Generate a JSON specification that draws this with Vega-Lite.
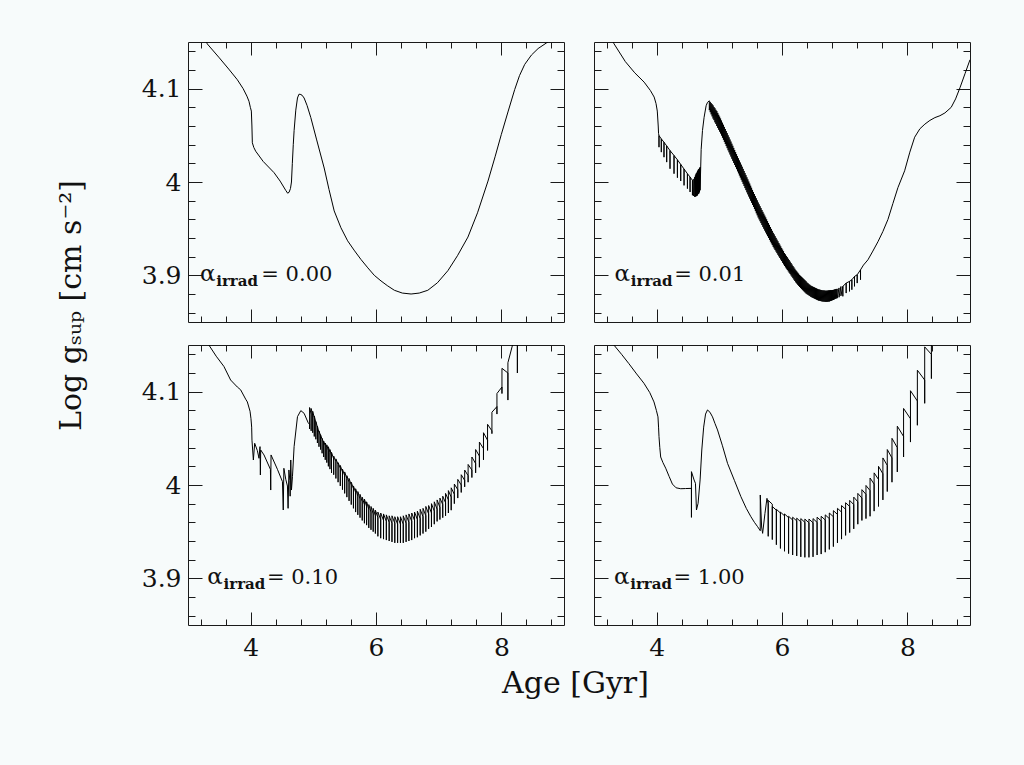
{
"$schema": "https://vega.github.io/schema/vega-lite/v6.json",
"background": "#f7fbfb",
"padding": {"left": 55, "top": 34, "right": 55, "bottom": 68},
"config": {
 "view": {"stroke": null},
 "axis": {"grid": false, "domainColor": "#1a1a1a", "tickColor": "#1a1a1a", "labelColor": "#111", "labelFont": "DejaVu Serif", "labelFontSize": 25, "titleFont": "DejaVu Serif", "titleFontSize": 30, "titleFontWeight": "normal", "titleColor": "#111", "domainWidth": 1, "tickWidth": 1},
 "text": {"font": "DejaVu Serif", "color": "#111"}
},
"datasets": {
"a": [{"x":3.25,"y":4.158},{"x":3.307,"y":4.148},{"x":3.5,"y":4.133},{"x":3.65,"y":4.121},{"x":3.787,"y":4.1096},{"x":3.88,"y":4.1},{"x":3.94,"y":4.092},{"x":3.973,"y":4.0865},{"x":3.995,"y":4.08},{"x":4.011,"y":4.076},{"x":4.02,"y":4.06},{"x":4.027,"y":4.042},{"x":4.05,"y":4.037},{"x":4.08,"y":4.033},{"x":4.2,"y":4.022},{"x":4.373,"y":4.01},{"x":4.47,"y":4.001},{"x":4.56,"y":3.991},{"x":4.59,"y":3.988},{"x":4.613,"y":3.989},{"x":4.635,"y":3.993},{"x":4.651,"y":4.0},{"x":4.665,"y":4.02},{"x":4.68,"y":4.04},{"x":4.693,"y":4.055},{"x":4.72,"y":4.077},{"x":4.747,"y":4.09},{"x":4.77,"y":4.094},{"x":4.789,"y":4.094},{"x":4.82,"y":4.093},{"x":4.853,"y":4.09},{"x":4.9,"y":4.082},{"x":4.96,"y":4.069},{"x":5.05,"y":4.046},{"x":5.173,"y":4.015},{"x":5.25,"y":3.992},{"x":5.333,"y":3.969},{"x":5.44,"y":3.951},{"x":5.547,"y":3.937},{"x":5.65,"y":3.927},{"x":5.76,"y":3.917},{"x":5.87,"y":3.908},{"x":5.973,"y":3.9},{"x":6.08,"y":3.894},{"x":6.18,"y":3.889},{"x":6.293,"y":3.884},{"x":6.42,"y":3.881},{"x":6.56,"y":3.88},{"x":6.69,"y":3.881},{"x":6.827,"y":3.884},{"x":6.98,"y":3.892},{"x":7.147,"y":3.905},{"x":7.3,"y":3.921},{"x":7.467,"y":3.941},{"x":7.62,"y":3.967},{"x":7.787,"y":4.001},{"x":7.9,"y":4.027},{"x":8.0,"y":4.051},{"x":8.11,"y":4.076},{"x":8.213,"y":4.099},{"x":8.29,"y":4.114},{"x":8.373,"y":4.126},{"x":8.48,"y":4.136},{"x":8.587,"y":4.143},{"x":8.72,"y":4.149},{"x":8.85,"y":4.155}],
"b": [{"x":3.25,"y":4.158},{"x":3.32,"y":4.148},{"x":3.5,"y":4.129},{"x":3.65,"y":4.117},{"x":3.8,"y":4.107},{"x":3.9,"y":4.098},{"x":3.96,"y":4.091},{"x":3.99,"y":4.084},{"x":4.01,"y":4.076},{"x":4.025,"y":4.06},{"x":4.03,"y":4.052},
{"x":4.037,"y":4.0497},{"x":4.037,"y":4.0373},{"x":4.037,"y":4.0497},
{"x":4.074,"y":4.0462},{"x":4.074,"y":4.032},{"x":4.074,"y":4.0462},
{"x":4.117,"y":4.0426},{"x":4.117,"y":4.0266},{"x":4.117,"y":4.0426},
{"x":4.16,"y":4.0387},{"x":4.16,"y":4.0213},{"x":4.16,"y":4.0387},
{"x":4.213,"y":4.0337},{"x":4.213,"y":4.0142},{"x":4.213,"y":4.0337},
{"x":4.277,"y":4.0284},{"x":4.277,"y":4.0089},{"x":4.277,"y":4.0284},
{"x":4.331,"y":4.0238},{"x":4.331,"y":4.0046},{"x":4.331,"y":4.0238},
{"x":4.384,"y":4.0188},{"x":4.384,"y":4.0011},{"x":4.384,"y":4.0188},
{"x":4.437,"y":4.0139},{"x":4.437,"y":3.9964},{"x":4.437,"y":4.0139},
{"x":4.491,"y":4.0089},{"x":4.491,"y":3.9929},{"x":4.491,"y":4.0089},
{"x":4.533,"y":4.0053},{"x":4.533,"y":3.9893},{"x":4.533,"y":4.0053},
{"x":4.571,"y":4.0018},{"x":4.571,"y":3.9858},{"x":4.571,"y":4.0018},
{"x":4.59,"y":4.003},{"x":4.59,"y":3.985},{"x":4.608,"y":4.0053},{"x":4.608,"y":3.984},{"x":4.618,"y":4.007},{"x":4.618,"y":3.9845},{"x":4.629,"y":4.0089},{"x":4.629,"y":3.9847},{"x":4.64,"y":4.01},{"x":4.64,"y":3.985},{"x":4.651,"y":4.0117},{"x":4.651,"y":3.9858},{"x":4.662,"y":4.013},{"x":4.662,"y":3.987},{"x":4.672,"y":4.0139},{"x":4.672,"y":3.9876},{"x":4.683,"y":4.015},{"x":4.683,"y":3.989},{"x":4.693,"y":4.016},{"x":4.693,"y":3.9911},
{"x":4.71,"y":4.035},{"x":4.731,"y":4.0551},{"x":4.757,"y":4.0693},{"x":4.789,"y":4.0817},{"x":4.811,"y":4.0853},
{"x":4.84,"y":4.087},{"x":4.84,"y":4.077},{"x":4.855,"y":4.0858},{"x":4.855,"y":4.0748},{"x":4.87,"y":4.0845},{"x":4.87,"y":4.0725},{"x":4.885,"y":4.0833},{"x":4.885,"y":4.0703},{"x":4.9,"y":4.082},{"x":4.9,"y":4.068},{"x":4.915,"y":4.0803},{"x":4.915,"y":4.0663},{"x":4.93,"y":4.079},{"x":4.93,"y":4.064},{"x":4.945,"y":4.0773},{"x":4.945,"y":4.0623},
{"x":4.96,"y":4.076},{"x":4.96,"y":4.06},{"x":4.975,"y":4.074},{"x":4.975,"y":4.058},{"x":4.99,"y":4.072},{"x":4.99,"y":4.056},{"x":5.005,"y":4.07},{"x":5.005,"y":4.054},{"x":5.02,"y":4.068},{"x":5.02,"y":4.052},{"x":5.035,"y":4.0658},{"x":5.035,"y":4.0498},{"x":5.05,"y":4.0635},{"x":5.05,"y":4.0475},{"x":5.065,"y":4.0613},{"x":5.065,"y":4.0453},
{"x":5.08,"y":4.059},{"x":5.08,"y":4.043},{"x":5.095,"y":4.0568},{"x":5.095,"y":4.0408},{"x":5.11,"y":4.0545},{"x":5.11,"y":4.0385},{"x":5.125,"y":4.0523},{"x":5.125,"y":4.0363},{"x":5.14,"y":4.05},{"x":5.14,"y":4.034},{"x":5.155,"y":4.0478},{"x":5.155,"y":4.0318},{"x":5.17,"y":4.0455},{"x":5.17,"y":4.0295},{"x":5.185,"y":4.0433},{"x":5.185,"y":4.0273},
{"x":5.2,"y":4.041},{"x":5.2,"y":4.025},{"x":5.215,"y":4.0388},{"x":5.215,"y":4.0228},{"x":5.23,"y":4.0365},{"x":5.23,"y":4.0205},{"x":5.245,"y":4.0343},{"x":5.245,"y":4.0183},{"x":5.26,"y":4.032},{"x":5.26,"y":4.016},{"x":5.275,"y":4.0298},{"x":5.275,"y":4.0138},{"x":5.29,"y":4.0275},{"x":5.29,"y":4.0115},{"x":5.305,"y":4.0253},{"x":5.305,"y":4.0093},
{"x":5.32,"y":4.023},{"x":5.32,"y":4.007},{"x":5.335,"y":4.0208},{"x":5.335,"y":4.0048},{"x":5.35,"y":4.0185},{"x":5.35,"y":4.0025},{"x":5.365,"y":4.0163},{"x":5.365,"y":4.0003},{"x":5.38,"y":4.014},{"x":5.38,"y":3.998},{"x":5.395,"y":4.0118},{"x":5.395,"y":3.9958},{"x":5.41,"y":4.0095},{"x":5.41,"y":3.9935},{"x":5.425,"y":4.0073},{"x":5.425,"y":3.9913},
{"x":5.44,"y":4.005},{"x":5.44,"y":3.989},{"x":5.455,"y":4.0028},{"x":5.455,"y":3.9868},{"x":5.47,"y":4.0005},{"x":5.47,"y":3.9845},{"x":5.485,"y":3.9983},{"x":5.485,"y":3.9823},{"x":5.5,"y":3.996},{"x":5.5,"y":3.98},{"x":5.515,"y":3.9938},{"x":5.515,"y":3.9778},{"x":5.53,"y":3.9915},{"x":5.53,"y":3.9755},{"x":5.545,"y":3.9893},{"x":5.545,"y":3.9733},
{"x":5.56,"y":3.987},{"x":5.56,"y":3.971},{"x":5.575,"y":3.9848},{"x":5.575,"y":3.9688},{"x":5.59,"y":3.9825},{"x":5.59,"y":3.9665},{"x":5.605,"y":3.9803},{"x":5.605,"y":3.9643},{"x":5.62,"y":3.978},{"x":5.62,"y":3.962},{"x":5.635,"y":3.976},{"x":5.635,"y":3.96},{"x":5.65,"y":3.974},{"x":5.65,"y":3.958},{"x":5.665,"y":3.972},{"x":5.665,"y":3.956},
{"x":5.68,"y":3.97},{"x":5.68,"y":3.954},{"x":5.695,"y":3.968},{"x":5.695,"y":3.952},{"x":5.71,"y":3.966},{"x":5.71,"y":3.95},{"x":5.725,"y":3.964},{"x":5.725,"y":3.948},{"x":5.74,"y":3.962},{"x":5.74,"y":3.946},{"x":5.755,"y":3.96},{"x":5.755,"y":3.944},{"x":5.77,"y":3.958},{"x":5.77,"y":3.942},{"x":5.785,"y":3.956},{"x":5.785,"y":3.94},
{"x":5.8,"y":3.954},{"x":5.8,"y":3.938},{"x":5.815,"y":3.9518},{"x":5.815,"y":3.9362},{"x":5.83,"y":3.9497},{"x":5.83,"y":3.9343},{"x":5.845,"y":3.9476},{"x":5.845,"y":3.9324},{"x":5.86,"y":3.9455},{"x":5.86,"y":3.9305},{"x":5.875,"y":3.9438},{"x":5.875,"y":3.9288},{"x":5.89,"y":3.9419},{"x":5.89,"y":3.9271},{"x":5.905,"y":3.9401},{"x":5.905,"y":3.9255},
{"x":5.92,"y":3.9382},{"x":5.92,"y":3.9238},{"x":5.935,"y":3.9365},{"x":5.935,"y":3.9221},{"x":5.95,"y":3.9346},{"x":5.95,"y":3.9204},{"x":5.965,"y":3.9329},{"x":5.965,"y":3.9187},{"x":5.98,"y":3.931},{"x":5.98,"y":3.917},{"x":5.995,"y":3.9293},{"x":5.995,"y":3.9153},{"x":6.01,"y":3.9275},{"x":6.01,"y":3.9135},{"x":6.025,"y":3.9258},{"x":6.025,"y":3.9118},
{"x":6.04,"y":3.9239},{"x":6.04,"y":3.9101},{"x":6.055,"y":3.9224},{"x":6.055,"y":3.9086},{"x":6.07,"y":3.9208},{"x":6.07,"y":3.9072},{"x":6.085,"y":3.9193},{"x":6.085,"y":3.9057},{"x":6.1,"y":3.9177},{"x":6.1,"y":3.9043},{"x":6.115,"y":3.9162},{"x":6.115,"y":3.9028},{"x":6.13,"y":3.9146},{"x":6.13,"y":3.9014},{"x":6.145,"y":3.9131},{"x":6.145,"y":3.8999},
{"x":6.16,"y":3.9115},{"x":6.16,"y":3.8985},{"x":6.175,"y":3.91},{"x":6.175,"y":3.897},{"x":6.19,"y":3.9085},{"x":6.19,"y":3.8955},{"x":6.205,"y":3.907},{"x":6.205,"y":3.894},{"x":6.22,"y":3.9055},{"x":6.22,"y":3.8925},{"x":6.235,"y":3.9043},{"x":6.235,"y":3.8913},{"x":6.25,"y":3.903},{"x":6.25,"y":3.89},{"x":6.265,"y":3.9018},{"x":6.265,"y":3.8888},
{"x":6.28,"y":3.9005},{"x":6.28,"y":3.8875},{"x":6.295,"y":3.8995},{"x":6.295,"y":3.8865},{"x":6.31,"y":3.8985},{"x":6.31,"y":3.8855},{"x":6.325,"y":3.8975},{"x":6.325,"y":3.8845},{"x":6.34,"y":3.8965},{"x":6.34,"y":3.8835},{"x":6.355,"y":3.8955},{"x":6.355,"y":3.8825},{"x":6.37,"y":3.8945},{"x":6.37,"y":3.8815},{"x":6.385,"y":3.8935},{"x":6.385,"y":3.8805},
{"x":6.4,"y":3.8922},{"x":6.4,"y":3.8798},{"x":6.415,"y":3.8915},{"x":6.415,"y":3.8791},{"x":6.43,"y":3.8905},{"x":6.43,"y":3.8785},{"x":6.445,"y":3.8898},{"x":6.445,"y":3.8778},{"x":6.46,"y":3.889},{"x":6.46,"y":3.877},{"x":6.475,"y":3.8885},{"x":6.475,"y":3.8765},{"x":6.49,"y":3.888},{"x":6.49,"y":3.876},{"x":6.505,"y":3.8875},{"x":6.505,"y":3.8755},
{"x":6.52,"y":3.887},{"x":6.52,"y":3.875},{"x":6.535,"y":3.8865},{"x":6.535,"y":3.8745},{"x":6.55,"y":3.886},{"x":6.55,"y":3.874},{"x":6.565,"y":3.8855},{"x":6.565,"y":3.8735},{"x":6.58,"y":3.885},{"x":6.58,"y":3.873},{"x":6.595,"y":3.8848},{"x":6.595,"y":3.8728},{"x":6.61,"y":3.8845},{"x":6.61,"y":3.8725},{"x":6.625,"y":3.8843},{"x":6.625,"y":3.8723},
{"x":6.64,"y":3.884},{"x":6.64,"y":3.872},{"x":6.655,"y":3.8839},{"x":6.655,"y":3.8719},{"x":6.67,"y":3.8838},{"x":6.67,"y":3.8718},{"x":6.685,"y":3.8837},{"x":6.685,"y":3.8717},{"x":6.7,"y":3.8835},{"x":6.7,"y":3.8715},{"x":6.715,"y":3.8836},{"x":6.715,"y":3.8716},{"x":6.73,"y":3.8837},{"x":6.73,"y":3.8717},{"x":6.745,"y":3.8839},{"x":6.745,"y":3.8719},
{"x":6.76,"y":3.884},{"x":6.76,"y":3.872},{"x":6.775,"y":3.8841},{"x":6.775,"y":3.8725},{"x":6.79,"y":3.8841},{"x":6.79,"y":3.8729},{"x":6.805,"y":3.8843},{"x":6.805,"y":3.8733},{"x":6.82,"y":3.8844},{"x":6.82,"y":3.8736},{"x":6.835,"y":3.8848},{"x":6.835,"y":3.8742},{"x":6.85,"y":3.8852},{"x":6.85,"y":3.8748},{"x":6.865,"y":3.8854},{"x":6.865,"y":3.8752},
{"x":6.88,"y":3.8855},{"x":6.88,"y":3.8755},{"x":6.91,"y":3.8865},{"x":6.91,"y":3.8765},{"x":6.94,"y":3.888},{"x":6.94,"y":3.878},
{"x":6.971,"y":3.8882},{"x":6.971,"y":3.8775},{"x":6.971,"y":3.8882},{"x":7.024,"y":3.8917},{"x":7.024,"y":3.881},{"x":7.024,"y":3.8917},{"x":7.077,"y":3.8935},{"x":7.077,"y":3.8828},{"x":7.077,"y":3.8935},{"x":7.115,"y":3.8953},{"x":7.115,"y":3.8846},{"x":7.115,"y":3.8953},{"x":7.157,"y":3.8988},{"x":7.157,"y":3.8882},{"x":7.157,"y":3.8988},{"x":7.2,"y":3.9006},{"x":7.2,"y":3.8917},{"x":7.2,"y":3.9006},{"x":7.253,"y":3.9059},{"x":7.253,"y":3.8953},{"x":7.253,"y":3.9059},
{"x":7.3,"y":3.911},{"x":7.371,"y":3.9166},{"x":7.45,"y":3.926},{"x":7.531,"y":3.936},{"x":7.61,"y":3.947},{"x":7.691,"y":3.96},{"x":7.77,"y":3.977},{"x":7.85,"y":3.994},{"x":7.957,"y":4.012},{"x":8.04,"y":4.032},{"x":8.117,"y":4.048},{"x":8.2,"y":4.057},{"x":8.28,"y":4.062},{"x":8.36,"y":4.066},{"x":8.44,"y":4.069},{"x":8.52,"y":4.071},{"x":8.6,"y":4.074},{"x":8.7,"y":4.08},{"x":8.77,"y":4.089},{"x":8.84,"y":4.101},{"x":8.92,"y":4.116},{"x":9.0,"y":4.131}],
"c": [{"x":3.28,"y":4.155},{"x":3.333,"y":4.15},{"x":3.45,"y":4.138},{"x":3.573,"y":4.127},{"x":3.68,"y":4.1125},{"x":3.787,"y":4.105},{"x":3.84,"y":4.102},{"x":3.92,"y":4.092},{"x":3.947,"y":4.089},{"x":3.99,"y":4.079},{"x":4.005,"y":4.071},{"x":4.016,"y":4.062},{"x":4.021,"y":4.048},
{"x":4.043,"y":4.0268},{"x":4.064,"y":4.0447},{"x":4.107,"y":4.0368},{"x":4.133,"y":4.0286},{"x":4.149,"y":4.0411},{"x":4.155,"y":4.0107},{"x":4.16,"y":4.0375},{"x":4.213,"y":4.0322},{"x":4.315,"y":4.0168},{"x":4.32,"y":3.9946},{"x":4.325,"y":4.0322},{"x":4.427,"y":4.0168},{"x":4.507,"y":4.0036},{"x":4.52,"y":3.9732},{"x":4.53,"y":4.0179},{"x":4.56,"y":4.0061},{"x":4.587,"y":3.9989},{"x":4.597,"y":3.975},{"x":4.61,"y":4.0161},{"x":4.625,"y":4.005},{"x":4.63,"y":3.988},{"x":4.64,"y":4.0268},{"x":4.651,"y":3.9946},{"x":4.667,"y":4.0089},{"x":4.693,"y":4.0411},{"x":4.747,"y":4.0732},{"x":4.8,"y":4.0797},{"x":4.853,"y":4.0768},{"x":4.917,"y":4.0668},
{"x":4.94,"y":4.065},{"x":4.94,"y":4.06},{"x":4.94,"y":4.083},
{"x":4.965,"y":4.076},{"x":4.965,"y":4.058},{"x":4.965,"y":4.082},
{"x":4.99,"y":4.075},{"x":4.99,"y":4.056},{"x":4.99,"y":4.079},
{"x":5.015,"y":4.072},{"x":5.015,"y":4.052},{"x":5.015,"y":4.074},
{"x":5.04,"y":4.067},{"x":5.04,"y":4.049},{"x":5.04,"y":4.068},
{"x":5.065,"y":4.062},{"x":5.065,"y":4.045},{"x":5.065,"y":4.063},
{"x":5.09,"y":4.056},{"x":5.09,"y":4.041},{"x":5.09,"y":4.058},
{"x":5.115,"y":4.053},{"x":5.115,"y":4.038},{"x":5.115,"y":4.054},
{"x":5.14,"y":4.049},{"x":5.14,"y":4.034},{"x":5.14,"y":4.05},
{"x":5.165,"y":4.045},{"x":5.165,"y":4.03},{"x":5.165,"y":4.047},
{"x":5.19,"y":4.042},{"x":5.19,"y":4.027},{"x":5.19,"y":4.045},
{"x":5.215,"y":4.04},{"x":5.215,"y":4.024},{"x":5.215,"y":4.043},
{"x":5.24,"y":4.037},{"x":5.24,"y":4.02},{"x":5.24,"y":4.041},
{"x":5.265,"y":4.035},{"x":5.265,"y":4.017},{"x":5.265,"y":4.038},
{"x":5.29,"y":4.032},{"x":5.29,"y":4.013},{"x":5.29,"y":4.035},
{"x":5.325,"y":4.028},{"x":5.325,"y":4.011},{"x":5.325,"y":4.031},
{"x":5.36,"y":4.025},{"x":5.36,"y":4.007},{"x":5.36,"y":4.028},
{"x":5.395,"y":4.022},{"x":5.395,"y":4.003},{"x":5.395,"y":4.024},
{"x":5.43,"y":4.018},{"x":5.43,"y":3.999},{"x":5.43,"y":4.021},
{"x":5.465,"y":4.014},{"x":5.465,"y":3.995},{"x":5.465,"y":4.017},
{"x":5.5,"y":4.01},{"x":5.5,"y":3.991},{"x":5.5,"y":4.014},
{"x":5.535,"y":4.007},{"x":5.535,"y":3.987},{"x":5.535,"y":4.01},
{"x":5.57,"y":4.003},{"x":5.57,"y":3.983},{"x":5.57,"y":4.007},
{"x":5.605,"y":4.0},{"x":5.605,"y":3.979},{"x":5.605,"y":4.003},
{"x":5.64,"y":3.996},{"x":5.64,"y":3.975},{"x":5.64,"y":3.999},
{"x":5.675,"y":3.992},{"x":5.675,"y":3.971},{"x":5.675,"y":3.996},
{"x":5.71,"y":3.988},{"x":5.71,"y":3.968},{"x":5.71,"y":3.993},
{"x":5.745,"y":3.985},{"x":5.745,"y":3.965},{"x":5.745,"y":3.99},
{"x":5.78,"y":3.982},{"x":5.78,"y":3.962},{"x":5.78,"y":3.987},
{"x":5.815,"y":3.979},{"x":5.815,"y":3.959},{"x":5.815,"y":3.985},
{"x":5.85,"y":3.977},{"x":5.85,"y":3.957},{"x":5.85,"y":3.982},
{"x":5.885,"y":3.974},{"x":5.885,"y":3.954},{"x":5.885,"y":3.979},
{"x":5.92,"y":3.971},{"x":5.92,"y":3.952},{"x":5.92,"y":3.977},
{"x":5.955,"y":3.969},{"x":5.955,"y":3.95},{"x":5.955,"y":3.975},
{"x":5.99,"y":3.967},{"x":5.99,"y":3.948},{"x":5.99,"y":3.973},
{"x":6.03,"y":3.965},{"x":6.03,"y":3.945},{"x":6.03,"y":3.971},
{"x":6.075,"y":3.963},{"x":6.075,"y":3.943},{"x":6.075,"y":3.97},
{"x":6.12,"y":3.962},{"x":6.12,"y":3.942},{"x":6.12,"y":3.969},
{"x":6.165,"y":3.961},{"x":6.165,"y":3.941},{"x":6.165,"y":3.968},
{"x":6.21,"y":3.96},{"x":6.21,"y":3.94},{"x":6.21,"y":3.967},
{"x":6.255,"y":3.959},{"x":6.255,"y":3.939},{"x":6.255,"y":3.967},
{"x":6.3,"y":3.959},{"x":6.3,"y":3.938},{"x":6.3,"y":3.966},
{"x":6.345,"y":3.958},{"x":6.345,"y":3.938},{"x":6.345,"y":3.966},
{"x":6.39,"y":3.958},{"x":6.39,"y":3.938},{"x":6.39,"y":3.966},
{"x":6.435,"y":3.958},{"x":6.435,"y":3.938},{"x":6.435,"y":3.967},
{"x":6.48,"y":3.959},{"x":6.48,"y":3.939},{"x":6.48,"y":3.968},
{"x":6.525,"y":3.96},{"x":6.525,"y":3.94},{"x":6.525,"y":3.969},
{"x":6.57,"y":3.961},{"x":6.57,"y":3.941},{"x":6.57,"y":3.97},
{"x":6.615,"y":3.962},{"x":6.615,"y":3.943},{"x":6.615,"y":3.971},
{"x":6.66,"y":3.963},{"x":6.66,"y":3.944},{"x":6.66,"y":3.972},
{"x":6.705,"y":3.964},{"x":6.705,"y":3.946},{"x":6.705,"y":3.974},
{"x":6.75,"y":3.966},{"x":6.75,"y":3.948},{"x":6.75,"y":3.975},
{"x":6.795,"y":3.967},{"x":6.795,"y":3.95},{"x":6.795,"y":3.977},
{"x":6.84,"y":3.969},{"x":6.84,"y":3.953},{"x":6.84,"y":3.978},
{"x":6.885,"y":3.97},{"x":6.885,"y":3.955},{"x":6.885,"y":3.98},
{"x":6.93,"y":3.972},{"x":6.93,"y":3.958},{"x":6.93,"y":3.982},
{"x":6.975,"y":3.974},{"x":6.975,"y":3.961},{"x":6.975,"y":3.984},
{"x":7.02,"y":3.976},{"x":7.02,"y":3.963},{"x":7.02,"y":3.986},
{"x":7.065,"y":3.979},{"x":7.065,"y":3.965},{"x":7.065,"y":3.988},
{"x":7.11,"y":3.981},{"x":7.11,"y":3.967},{"x":7.11,"y":3.991},
{"x":7.155,"y":3.984},{"x":7.155,"y":3.97},{"x":7.155,"y":3.994},
{"x":7.2,"y":3.987},{"x":7.2,"y":3.973},{"x":7.2,"y":3.997},
{"x":7.25,"y":3.99},{"x":7.25,"y":3.98},{"x":7.25,"y":4.001},
{"x":7.305,"y":3.995},{"x":7.305,"y":3.986},{"x":7.305,"y":4.006},
{"x":7.36,"y":4.0},{"x":7.36,"y":3.992},{"x":7.36,"y":4.011},
{"x":7.415,"y":4.005},{"x":7.415,"y":3.998},{"x":7.415,"y":4.016},
{"x":7.47,"y":4.01},{"x":7.47,"y":4.003},{"x":7.47,"y":4.022},
{"x":7.53,"y":4.016},{"x":7.53,"y":4.008},{"x":7.53,"y":4.03},
{"x":7.59,"y":4.023},{"x":7.59,"y":4.013},{"x":7.59,"y":4.038},
{"x":7.65,"y":4.031},{"x":7.65,"y":4.019},{"x":7.65,"y":4.046},
{"x":7.715,"y":4.039},{"x":7.715,"y":4.027},{"x":7.715,"y":4.056},
{"x":7.78,"y":4.048},{"x":7.78,"y":4.037},{"x":7.78,"y":4.065},
{"x":7.85,"y":4.058},{"x":7.85,"y":4.055},{"x":7.85,"y":4.078},
{"x":7.93,"y":4.084},{"x":7.93,"y":4.076},{"x":7.93,"y":4.098},
{"x":8.01,"y":4.105},{"x":8.01,"y":4.098},{"x":8.01,"y":4.125},
{"x":8.105,"y":4.12},{"x":8.105,"y":4.091},{"x":8.105,"y":4.131},
{"x":8.256,"y":4.17},{"x":8.256,"y":4.12},{"x":8.256,"y":4.185},
{"x":8.33,"y":4.2}],
"d": [{"x":3.25,"y":4.16},{"x":3.317,"y":4.15},{"x":3.44,"y":4.14},{"x":3.557,"y":4.13},{"x":3.68,"y":4.119},{"x":3.797,"y":4.109},{"x":3.89,"y":4.099},{"x":3.957,"y":4.089},{"x":3.995,"y":4.08},{"x":4.021,"y":4.073},{"x":4.03,"y":4.062},{"x":4.037,"y":4.052},{"x":4.05,"y":4.04},{"x":4.064,"y":4.03},{"x":4.1,"y":4.024},{"x":4.144,"y":4.018},{"x":4.2,"y":4.009},{"x":4.251,"y":4.001},{"x":4.31,"y":3.997},{"x":4.384,"y":3.996},{"x":4.46,"y":3.9962},{"x":4.555,"y":3.9964},{"x":4.555,"y":3.9653},{"x":4.555,"y":4.0143},{"x":4.597,"y":4.0054},{"x":4.619,"y":4.0018},{"x":4.635,"y":3.9732},{"x":4.661,"y":3.9804},{"x":4.693,"y":4.0054},{"x":4.72,"y":4.0375},{"x":4.75,"y":4.062},{"x":4.78,"y":4.076},{"x":4.811,"y":4.0804},{"x":4.85,"y":4.078},{"x":4.891,"y":4.073},{"x":4.93,"y":4.066},{"x":4.971,"y":4.059},{"x":5.05,"y":4.042},{"x":5.131,"y":4.0232},{"x":5.24,"y":4.005},{"x":5.344,"y":3.9875},{"x":5.43,"y":3.975},{"x":5.504,"y":3.966},{"x":5.56,"y":3.96},{"x":5.611,"y":3.9553},{"x":5.653,"y":3.951},{"x":5.653,"y":3.9893},{"x":5.675,"y":3.955},{"x":5.691,"y":3.9482},{"x":5.728,"y":3.9696},{"x":5.76,"y":3.9857},
{"x":5.78,"y":3.98},{"x":5.78,"y":3.945},{"x":5.78,"y":3.9835},
{"x":5.845,"y":3.9795},{"x":5.845,"y":3.9415},{"x":5.845,"y":3.977},
{"x":5.91,"y":3.973},{"x":5.91,"y":3.936},{"x":5.91,"y":3.974},
{"x":5.975,"y":3.97},{"x":5.975,"y":3.932},{"x":5.975,"y":3.971},
{"x":6.04,"y":3.967},{"x":6.04,"y":3.929},{"x":6.04,"y":3.969},
{"x":6.105,"y":3.965},{"x":6.105,"y":3.9265},{"x":6.105,"y":3.9665},
{"x":6.17,"y":3.9625},{"x":6.17,"y":3.925},{"x":6.17,"y":3.9655},
{"x":6.235,"y":3.9615},{"x":6.235,"y":3.924},{"x":6.235,"y":3.9645},
{"x":6.3,"y":3.9605},{"x":6.3,"y":3.923},{"x":6.3,"y":3.964},
{"x":6.365,"y":3.96},{"x":6.365,"y":3.9225},{"x":6.365,"y":3.9635},
{"x":6.43,"y":3.9595},{"x":6.43,"y":3.9225},{"x":6.43,"y":3.9635},
{"x":6.495,"y":3.9595},{"x":6.495,"y":3.923},{"x":6.495,"y":3.964},
{"x":6.56,"y":3.96},{"x":6.56,"y":3.925},{"x":6.56,"y":3.9655},
{"x":6.625,"y":3.9615},{"x":6.625,"y":3.926},{"x":6.625,"y":3.9665},
{"x":6.69,"y":3.9625},{"x":6.69,"y":3.928},{"x":6.69,"y":3.968},
{"x":6.755,"y":3.964},{"x":6.755,"y":3.931},{"x":6.755,"y":3.97},
{"x":6.82,"y":3.966},{"x":6.82,"y":3.934},{"x":6.82,"y":3.9725},
{"x":6.885,"y":3.9685},{"x":6.885,"y":3.938},{"x":6.885,"y":3.975},
{"x":6.95,"y":3.971},{"x":6.95,"y":3.942},{"x":6.95,"y":3.978},
{"x":7.015,"y":3.974},{"x":7.015,"y":3.946},{"x":7.015,"y":3.981},
{"x":7.08,"y":3.977},{"x":7.08,"y":3.949},{"x":7.08,"y":3.9835},
{"x":7.145,"y":3.979},{"x":7.145,"y":3.953},{"x":7.145,"y":3.987},
{"x":7.21,"y":3.982},{"x":7.21,"y":3.958},{"x":7.21,"y":3.991},
{"x":7.275,"y":3.986},{"x":7.275,"y":3.962},{"x":7.275,"y":3.995},
{"x":7.34,"y":3.99},{"x":7.34,"y":3.964},{"x":7.34,"y":3.9995},
{"x":7.405,"y":3.994},{"x":7.405,"y":3.9665},{"x":7.405,"y":4.0075},
{"x":7.47,"y":4.001},{"x":7.47,"y":3.972},{"x":7.47,"y":4.013},
{"x":7.54,"y":4.006},{"x":7.54,"y":3.977},{"x":7.54,"y":4.02},
{"x":7.61,"y":4.012},{"x":7.61,"y":3.984},{"x":7.61,"y":4.029},
{"x":7.68,"y":4.021},{"x":7.68,"y":3.993},{"x":7.68,"y":4.038},
{"x":7.755,"y":4.029},{"x":7.755,"y":4.003},{"x":7.755,"y":4.05},
{"x":7.84,"y":4.04},{"x":7.84,"y":4.014},{"x":7.84,"y":4.063},
{"x":7.94,"y":4.052},{"x":7.94,"y":4.03},{"x":7.94,"y":4.082},
{"x":8.05,"y":4.071},{"x":8.05,"y":4.046},{"x":8.05,"y":4.101},
{"x":8.16,"y":4.09},{"x":8.16,"y":4.064},{"x":8.16,"y":4.123},
{"x":8.277,"y":4.1125},{"x":8.277,"y":4.0875},{"x":8.277,"y":4.148},
{"x":8.384,"y":4.14},{"x":8.384,"y":4.114},{"x":8.384,"y":4.165},
{"x":8.45,"y":4.175}]
},
"columns": 2,
"spacing": {"row": 23, "column": 30},
"bounds": "flush",
"concat": [
 {"width": 376, "height": 280, "data": {"name": "a"},
  "layer": [
   {"mark": {"type": "line", "color": "#000", "strokeWidth": 1, "clip": true},
    "encoding": {
     "x": {"field": "x", "type": "quantitative", "scale": {"domain": [3, 9], "nice": false, "zero": false}, "axis": {"orient": "bottom", "ticks": false, "labels": false, "title": null}},
     "y": {"field": "y", "type": "quantitative", "scale": {"domain": [3.85, 4.15], "nice": false, "zero": false}, "axis": {"orient": "left", "values": [3.9, 4, 4.1], "ticks": false, "labelPadding": 7, "format": "~g", "title": "Log gₛᵤₚ [cm s⁻²]", "titleX": -117, "titleY": 263, "titleAngle": -90, "titleAlign": "center", "titleBaseline": "middle"}},
     "order": {"value": null}}},
   {"mark": {"type": "line", "opacity": 0},
    "encoding": {
     "x": {"field": "x", "type": "quantitative", "axis": {"orient": "bottom", "values": [4, 6, 8], "tickSize": -13, "labels": false, "domain": false, "title": null}},
     "y": {"field": "y", "type": "quantitative", "axis": {"orient": "left", "values": [3.9, 4, 4.1], "tickSize": -14, "labels": false, "domain": false, "title": null}},
     "order": {"value": null}}},
   {"mark": {"type": "line", "opacity": 0},
    "encoding": {
     "x": {"field": "x", "type": "quantitative", "axis": {"orient": "bottom", "values": [3.2, 3.6, 4.4, 4.8, 5.2, 5.6, 6.4, 6.8, 7.2, 7.6, 8.4, 8.8], "tickSize": -6, "labels": false, "domain": false, "title": null}},
     "y": {"field": "y", "type": "quantitative", "axis": {"orient": "left", "values": [3.86, 3.88, 3.92, 3.94, 3.96, 3.98, 4.02, 4.04, 4.06, 4.08, 4.12, 4.14], "tickSize": -7, "labels": false, "domain": false, "title": null}},
     "order": {"value": null}}},
   {"mark": {"type": "line", "opacity": 0},
    "encoding": {
     "x": {"field": "x", "type": "quantitative", "axis": {"orient": "top", "values": [4, 6, 8], "tickSize": -13, "labels": false, "title": null}},
     "y": {"field": "y", "type": "quantitative", "axis": {"orient": "right", "values": [3.9, 4, 4.1], "tickSize": -14, "labels": false, "title": null}},
     "order": {"value": null}}},
   {"mark": {"type": "line", "opacity": 0},
    "encoding": {
     "x": {"field": "x", "type": "quantitative", "axis": {"orient": "top", "values": [3.2, 3.6, 4.4, 4.8, 5.2, 5.6, 6.4, 6.8, 7.2, 7.6, 8.4, 8.8], "tickSize": -6, "labels": false, "domain": false, "title": null}},
     "y": {"field": "y", "type": "quantitative", "axis": {"orient": "right", "values": [3.86, 3.88, 3.92, 3.94, 3.96, 3.98, 4.02, 4.04, 4.06, 4.08, 4.12, 4.14], "tickSize": -7, "labels": false, "domain": false, "title": null}},
     "order": {"value": null}}},
   {"data": {"values": [{"label": "α"}]}, "mark": {"type": "text", "fontSize": 23, "align": "left", "baseline": "alphabetic"},
    "encoding": {"x": {"datum": 3.19, "type": "quantitative", "axis": null}, "y": {"datum": 3.894, "type": "quantitative", "axis": null}, "text": {"field": "label"}}},
   {"data": {"values": [{"label": "irrad"}]}, "mark": {"type": "text", "fontSize": 15, "fontWeight": "bold", "align": "left", "baseline": "alphabetic"},
    "encoding": {"x": {"datum": 3.45, "type": "quantitative", "axis": null}, "y": {"datum": 3.889, "type": "quantitative", "axis": null}, "text": {"field": "label"}}},
   {"data": {"values": [{"label": "= 0.00"}]}, "mark": {"type": "text", "fontSize": 21, "align": "left", "baseline": "alphabetic"},
    "encoding": {"x": {"datum": 4.17, "type": "quantitative", "axis": null}, "y": {"datum": 3.894, "type": "quantitative", "axis": null}, "text": {"field": "label"}}}
  ],
  "resolve": {"axis": {"x": "independent", "y": "independent"}}},
 {"width": 376, "height": 280, "data": {"name": "b"},
  "layer": [
   {"mark": {"type": "line", "color": "#000", "strokeWidth": 1, "clip": true},
    "encoding": {
     "x": {"field": "x", "type": "quantitative", "scale": {"domain": [3, 9], "nice": false, "zero": false}, "axis": {"orient": "bottom", "ticks": false, "labels": false, "title": null}},
     "y": {"field": "y", "type": "quantitative", "scale": {"domain": [3.85, 4.15], "nice": false, "zero": false}, "axis": {"orient": "left", "ticks": false, "labels": false, "title": null}},
     "order": {"value": null}}},
   {"mark": {"type": "line", "opacity": 0},
    "encoding": {
     "x": {"field": "x", "type": "quantitative", "axis": {"orient": "bottom", "values": [4, 6, 8], "tickSize": -13, "labels": false, "domain": false, "title": null}},
     "y": {"field": "y", "type": "quantitative", "axis": {"orient": "left", "values": [3.9, 4, 4.1], "tickSize": -14, "labels": false, "domain": false, "title": null}},
     "order": {"value": null}}},
   {"mark": {"type": "line", "opacity": 0},
    "encoding": {
     "x": {"field": "x", "type": "quantitative", "axis": {"orient": "bottom", "values": [3.2, 3.6, 4.4, 4.8, 5.2, 5.6, 6.4, 6.8, 7.2, 7.6, 8.4, 8.8], "tickSize": -6, "labels": false, "domain": false, "title": null}},
     "y": {"field": "y", "type": "quantitative", "axis": {"orient": "left", "values": [3.86, 3.88, 3.92, 3.94, 3.96, 3.98, 4.02, 4.04, 4.06, 4.08, 4.12, 4.14], "tickSize": -7, "labels": false, "domain": false, "title": null}},
     "order": {"value": null}}},
   {"mark": {"type": "line", "opacity": 0},
    "encoding": {
     "x": {"field": "x", "type": "quantitative", "axis": {"orient": "top", "values": [4, 6, 8], "tickSize": -13, "labels": false, "title": null}},
     "y": {"field": "y", "type": "quantitative", "axis": {"orient": "right", "values": [3.9, 4, 4.1], "tickSize": -14, "labels": false, "title": null}},
     "order": {"value": null}}},
   {"mark": {"type": "line", "opacity": 0},
    "encoding": {
     "x": {"field": "x", "type": "quantitative", "axis": {"orient": "top", "values": [3.2, 3.6, 4.4, 4.8, 5.2, 5.6, 6.4, 6.8, 7.2, 7.6, 8.4, 8.8], "tickSize": -6, "labels": false, "domain": false, "title": null}},
     "y": {"field": "y", "type": "quantitative", "axis": {"orient": "right", "values": [3.86, 3.88, 3.92, 3.94, 3.96, 3.98, 4.02, 4.04, 4.06, 4.08, 4.12, 4.14], "tickSize": -7, "labels": false, "domain": false, "title": null}},
     "order": {"value": null}}},
   {"data": {"values": [{"label": "α"}]}, "mark": {"type": "text", "fontSize": 23, "align": "left", "baseline": "alphabetic"},
    "encoding": {"x": {"datum": 3.328, "type": "quantitative", "axis": null}, "y": {"datum": 3.894, "type": "quantitative", "axis": null}, "text": {"field": "label"}}},
   {"data": {"values": [{"label": "irrad"}]}, "mark": {"type": "text", "fontSize": 15, "fontWeight": "bold", "align": "left", "baseline": "alphabetic"},
    "encoding": {"x": {"datum": 3.588, "type": "quantitative", "axis": null}, "y": {"datum": 3.889, "type": "quantitative", "axis": null}, "text": {"field": "label"}}},
   {"data": {"values": [{"label": "= 0.01"}]}, "mark": {"type": "text", "fontSize": 21, "align": "left", "baseline": "alphabetic"},
    "encoding": {"x": {"datum": 4.28, "type": "quantitative", "axis": null}, "y": {"datum": 3.894, "type": "quantitative", "axis": null}, "text": {"field": "label"}}}
  ],
  "resolve": {"axis": {"x": "independent", "y": "independent"}}},
 {"width": 376, "height": 280, "data": {"name": "c"},
  "layer": [
   {"mark": {"type": "line", "color": "#000", "strokeWidth": 1, "clip": true},
    "encoding": {
     "x": {"field": "x", "type": "quantitative", "scale": {"domain": [3, 9], "nice": false, "zero": false}, "axis": {"orient": "bottom", "values": [4, 6, 8], "ticks": false, "labelPadding": 10, "format": "~g", "title": "Age [Gyr]", "titleX": 387, "titleY": 58, "titleAngle": 0, "titleAlign": "center", "titleBaseline": "middle"}},
     "y": {"field": "y", "type": "quantitative", "scale": {"domain": [3.85, 4.15], "nice": false, "zero": false}, "axis": {"orient": "left", "values": [3.9, 4, 4.1], "ticks": false, "labelPadding": 7, "format": "~g", "title": null}},
     "order": {"value": null}}},
   {"mark": {"type": "line", "opacity": 0},
    "encoding": {
     "x": {"field": "x", "type": "quantitative", "axis": {"orient": "bottom", "values": [4, 6, 8], "tickSize": -13, "labels": false, "domain": false, "title": null}},
     "y": {"field": "y", "type": "quantitative", "axis": {"orient": "left", "values": [3.9, 4, 4.1], "tickSize": -14, "labels": false, "domain": false, "title": null}},
     "order": {"value": null}}},
   {"mark": {"type": "line", "opacity": 0},
    "encoding": {
     "x": {"field": "x", "type": "quantitative", "axis": {"orient": "bottom", "values": [3.2, 3.6, 4.4, 4.8, 5.2, 5.6, 6.4, 6.8, 7.2, 7.6, 8.4, 8.8], "tickSize": -6, "labels": false, "domain": false, "title": null}},
     "y": {"field": "y", "type": "quantitative", "axis": {"orient": "left", "values": [3.86, 3.88, 3.92, 3.94, 3.96, 3.98, 4.02, 4.04, 4.06, 4.08, 4.12, 4.14], "tickSize": -7, "labels": false, "domain": false, "title": null}},
     "order": {"value": null}}},
   {"mark": {"type": "line", "opacity": 0},
    "encoding": {
     "x": {"field": "x", "type": "quantitative", "axis": {"orient": "top", "values": [4, 6, 8], "tickSize": -13, "labels": false, "title": null}},
     "y": {"field": "y", "type": "quantitative", "axis": {"orient": "right", "values": [3.9, 4, 4.1], "tickSize": -14, "labels": false, "title": null}},
     "order": {"value": null}}},
   {"mark": {"type": "line", "opacity": 0},
    "encoding": {
     "x": {"field": "x", "type": "quantitative", "axis": {"orient": "top", "values": [3.2, 3.6, 4.4, 4.8, 5.2, 5.6, 6.4, 6.8, 7.2, 7.6, 8.4, 8.8], "tickSize": -6, "labels": false, "domain": false, "title": null}},
     "y": {"field": "y", "type": "quantitative", "axis": {"orient": "right", "values": [3.86, 3.88, 3.92, 3.94, 3.96, 3.98, 4.02, 4.04, 4.06, 4.08, 4.12, 4.14], "tickSize": -7, "labels": false, "domain": false, "title": null}},
     "order": {"value": null}}},
   {"data": {"values": [{"label": "α"}]}, "mark": {"type": "text", "fontSize": 23, "align": "left", "baseline": "alphabetic"},
    "encoding": {"x": {"datum": 3.307, "type": "quantitative", "axis": null}, "y": {"datum": 3.894, "type": "quantitative", "axis": null}, "text": {"field": "label"}}},
   {"data": {"values": [{"label": "irrad"}]}, "mark": {"type": "text", "fontSize": 15, "fontWeight": "bold", "align": "left", "baseline": "alphabetic"},
    "encoding": {"x": {"datum": 3.567, "type": "quantitative", "axis": null}, "y": {"datum": 3.889, "type": "quantitative", "axis": null}, "text": {"field": "label"}}},
   {"data": {"values": [{"label": "= 0.10"}]}, "mark": {"type": "text", "fontSize": 21, "align": "left", "baseline": "alphabetic"},
    "encoding": {"x": {"datum": 4.26, "type": "quantitative", "axis": null}, "y": {"datum": 3.894, "type": "quantitative", "axis": null}, "text": {"field": "label"}}}
  ],
  "resolve": {"axis": {"x": "independent", "y": "independent"}}},
 {"width": 376, "height": 280, "data": {"name": "d"},
  "layer": [
   {"mark": {"type": "line", "color": "#000", "strokeWidth": 1, "clip": true},
    "encoding": {
     "x": {"field": "x", "type": "quantitative", "scale": {"domain": [3, 9], "nice": false, "zero": false}, "axis": {"orient": "bottom", "values": [4, 6, 8], "ticks": false, "labelPadding": 10, "format": "~g", "title": null}},
     "y": {"field": "y", "type": "quantitative", "scale": {"domain": [3.85, 4.15], "nice": false, "zero": false}, "axis": {"orient": "left", "ticks": false, "labels": false, "title": null}},
     "order": {"value": null}}},
   {"mark": {"type": "line", "opacity": 0},
    "encoding": {
     "x": {"field": "x", "type": "quantitative", "axis": {"orient": "bottom", "values": [4, 6, 8], "tickSize": -13, "labels": false, "domain": false, "title": null}},
     "y": {"field": "y", "type": "quantitative", "axis": {"orient": "left", "values": [3.9, 4, 4.1], "tickSize": -14, "labels": false, "domain": false, "title": null}},
     "order": {"value": null}}},
   {"mark": {"type": "line", "opacity": 0},
    "encoding": {
     "x": {"field": "x", "type": "quantitative", "axis": {"orient": "bottom", "values": [3.2, 3.6, 4.4, 4.8, 5.2, 5.6, 6.4, 6.8, 7.2, 7.6, 8.4, 8.8], "tickSize": -6, "labels": false, "domain": false, "title": null}},
     "y": {"field": "y", "type": "quantitative", "axis": {"orient": "left", "values": [3.86, 3.88, 3.92, 3.94, 3.96, 3.98, 4.02, 4.04, 4.06, 4.08, 4.12, 4.14], "tickSize": -7, "labels": false, "domain": false, "title": null}},
     "order": {"value": null}}},
   {"mark": {"type": "line", "opacity": 0},
    "encoding": {
     "x": {"field": "x", "type": "quantitative", "axis": {"orient": "top", "values": [4, 6, 8], "tickSize": -13, "labels": false, "title": null}},
     "y": {"field": "y", "type": "quantitative", "axis": {"orient": "right", "values": [3.9, 4, 4.1], "tickSize": -14, "labels": false, "title": null}},
     "order": {"value": null}}},
   {"mark": {"type": "line", "opacity": 0},
    "encoding": {
     "x": {"field": "x", "type": "quantitative", "axis": {"orient": "top", "values": [3.2, 3.6, 4.4, 4.8, 5.2, 5.6, 6.4, 6.8, 7.2, 7.6, 8.4, 8.8], "tickSize": -6, "labels": false, "domain": false, "title": null}},
     "y": {"field": "y", "type": "quantitative", "axis": {"orient": "right", "values": [3.86, 3.88, 3.92, 3.94, 3.96, 3.98, 4.02, 4.04, 4.06, 4.08, 4.12, 4.14], "tickSize": -7, "labels": false, "domain": false, "title": null}},
     "order": {"value": null}}},
   {"data": {"values": [{"label": "α"}]}, "mark": {"type": "text", "fontSize": 23, "align": "left", "baseline": "alphabetic"},
    "encoding": {"x": {"datum": 3.318, "type": "quantitative", "axis": null}, "y": {"datum": 3.894, "type": "quantitative", "axis": null}, "text": {"field": "label"}}},
   {"data": {"values": [{"label": "irrad"}]}, "mark": {"type": "text", "fontSize": 15, "fontWeight": "bold", "align": "left", "baseline": "alphabetic"},
    "encoding": {"x": {"datum": 3.578, "type": "quantitative", "axis": null}, "y": {"datum": 3.889, "type": "quantitative", "axis": null}, "text": {"field": "label"}}},
   {"data": {"values": [{"label": "= 1.00"}]}, "mark": {"type": "text", "fontSize": 21, "align": "left", "baseline": "alphabetic"},
    "encoding": {"x": {"datum": 4.27, "type": "quantitative", "axis": null}, "y": {"datum": 3.894, "type": "quantitative", "axis": null}, "text": {"field": "label"}}}
  ],
  "resolve": {"axis": {"x": "independent", "y": "independent"}}}
]
}
